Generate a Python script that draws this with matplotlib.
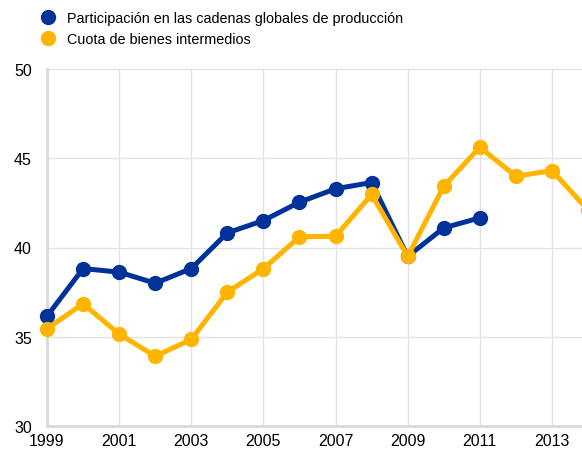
import matplotlib
matplotlib.use("Agg")
import matplotlib.pyplot as plt
from matplotlib.lines import Line2D

plt.rcParams['font.family'] = ['Liberation Sans', 'DejaVu Sans']

years_blue = [1999, 2000, 2001, 2002, 2003, 2004, 2005, 2006, 2007, 2008, 2009, 2010, 2011]
blue = [36.15, 38.82, 38.62, 38.0, 38.82, 40.82, 41.51, 42.54, 43.29, 43.64, 39.5, 41.1, 41.66]
years_yellow = [1999, 2000, 2001, 2002, 2003, 2004, 2005, 2006, 2007, 2008, 2009, 2010, 2011, 2012, 2013, 2014]
yellow = [35.45, 36.85, 35.15, 33.91, 34.85, 37.5, 38.81, 40.6, 40.63, 42.97, 39.5, 43.43, 45.62, 43.99, 44.31, 42.1]
label_blue = "Participación en las cadenas globales de producción"
label_yellow = "Cuota de bienes intermedios"
xticks = [1999, 2001, 2003, 2005, 2007, 2009, 2011, 2013]
yticks = [30, 35, 40, 45, 50]

BLUE = "#003299"
YELLOW = "#FFB400"

fig = plt.figure(figsize=(5.82, 4.52), dpi=100)
ax = fig.add_axes([47/582, 25/452, 535/582, 357/452])

ax.plot(years_blue, blue, color=BLUE, lw=3.6, marker='o', ms=10, zorder=3, clip_on=False)
ax.plot(years_yellow, yellow, color=YELLOW, lw=3.6, marker='o', ms=10, zorder=4, clip_on=False)

ax.set_xlim(1999, 1999 + 535/36.07)
ax.set_ylim(30, 50)
ax.set_xticks(xticks)
ax.set_xticklabels([str(x) for x in xticks])
ax.set_yticks(yticks)
ax.grid(True, color='#e3e3e3', lw=1)
ax.set_axisbelow(True)
for s in ['top', 'right']:
    ax.spines[s].set_visible(False)
for s in ['left', 'bottom']:
    ax.spines[s].set_color('#d9d9d9')
    ax.spines[s].set_linewidth(2)
    ax.spines[s].set_zorder(2)
ax.tick_params(axis='both', length=0, labelsize=11.5, colors='black')
ax.tick_params(axis='y', pad=11)
ax.tick_params(axis='x', pad=5)

handles = [Line2D([], [], color=BLUE, marker='o', ls='none', ms=10),
           Line2D([], [], color=YELLOW, marker='o', ls='none', ms=10)]
fig.legend(handles, [label_blue, label_yellow], loc='upper left',
           bbox_to_anchor=(29/582, 1 - 2/452), frameon=False, fontsize=10.4,
           handletextpad=0.75, labelspacing=0.45, handlelength=1.2, borderpad=0.2)

fig.savefig("out.png", dpi=100)
